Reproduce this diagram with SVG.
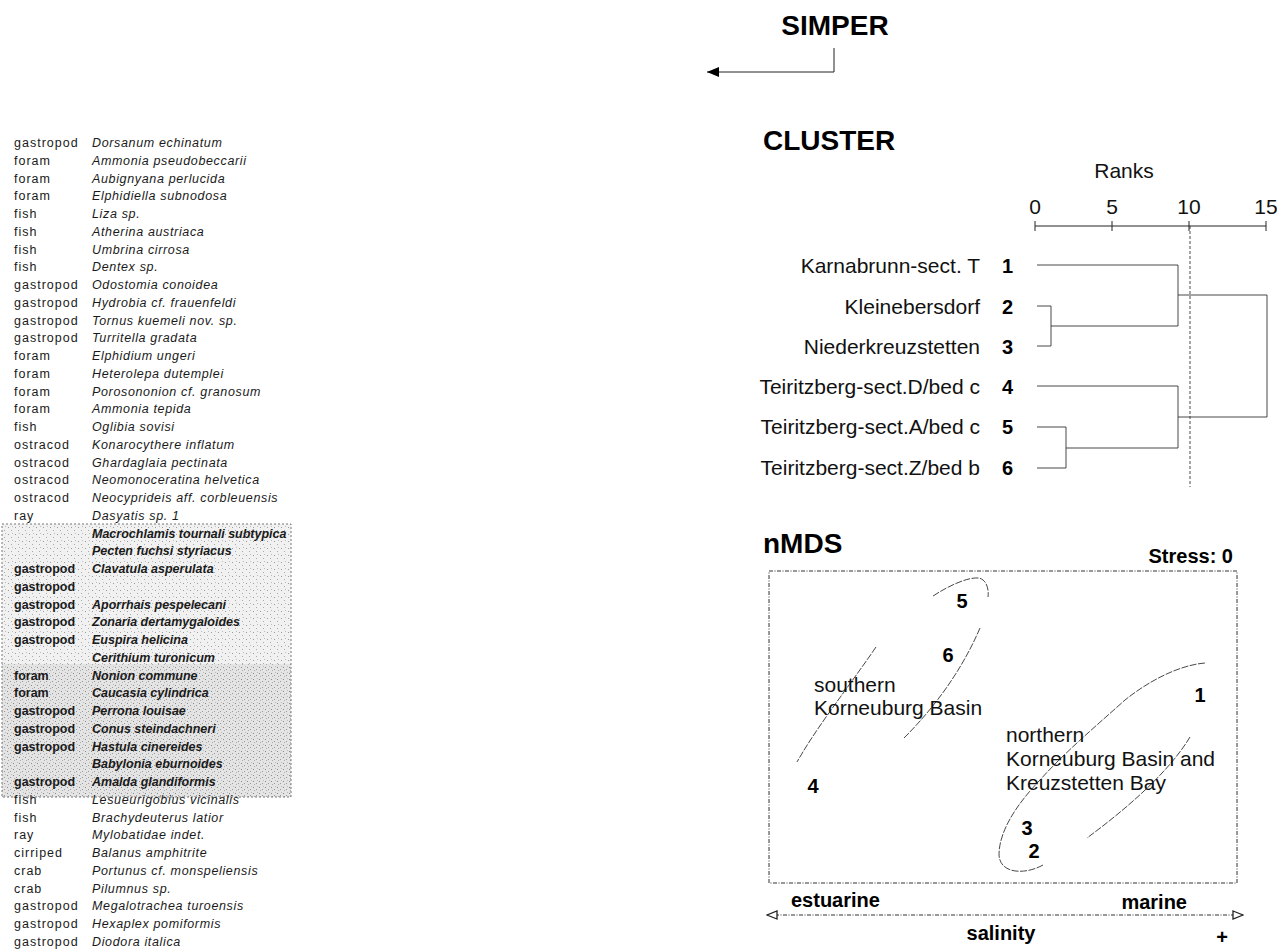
<svg xmlns="http://www.w3.org/2000/svg" width="1277" height="949" viewBox="0 0 1277 949">
<defs>
<style>
.t{font-family:"Liberation Sans",Arial,sans-serif;fill:#1a1a1a}
.cat{font-size:12.5px;letter-spacing:1px}
.sp{font-size:12.5px;font-style:italic;letter-spacing:0.65px}
.bx .cat,.bx .sp{font-weight:bold;letter-spacing:0px}
.h{font-family:"Liberation Sans",Arial,sans-serif;font-weight:bold;font-size:28px;fill:#000}
.lab{font-family:"Liberation Sans",Arial,sans-serif;font-size:21px;fill:#111}
.num{font-family:"Liberation Sans",Arial,sans-serif;font-size:20px;font-weight:bold;fill:#000}
.bl{font-family:"Liberation Sans",Arial,sans-serif;font-size:20px;font-weight:bold;fill:#000}
.ln{fill:none;stroke:#222;stroke-width:1}
.dn{fill:none;stroke:#333;stroke-width:0.9}
.cv{fill:none;stroke:#333;stroke-width:0.9;stroke-dasharray:7 1.5}
.dash{fill:none;stroke:#333;stroke-width:1;stroke-dasharray:4 1.5 1 1.5}
</style>
<pattern id="stip" width="7" height="7" patternUnits="userSpaceOnUse">
<rect width="7" height="7" fill="#f1f1f1"/>
<rect x="1" y="2" width="1" height="1" fill="#9a9a9a"/>
<rect x="4" y="5" width="1" height="1" fill="#aaa"/>
<rect x="5" y="1" width="1" height="1" fill="#bbb"/>
</pattern>
<pattern id="stip2" width="6" height="6" patternUnits="userSpaceOnUse">
<rect width="6" height="6" fill="#e4e4e4"/>
<rect x="1" y="1" width="1" height="1" fill="#888"/>
<rect x="4" y="3" width="1" height="1" fill="#999"/>
<rect x="2" y="4" width="1" height="1" fill="#aaa"/>
<rect x="5" y="0" width="1" height="1" fill="#bbb"/>
</pattern>
<marker id="af" viewBox="0 0 12 10" refX="12" refY="5" markerWidth="12" markerHeight="10" markerUnits="userSpaceOnUse" orient="auto">
<path d="M0,0 L12,5 L0,10 Z" fill="#000"/>
</marker>
<marker id="ao" viewBox="0 0 12 10" refX="11" refY="5" markerWidth="12" markerHeight="10" markerUnits="userSpaceOnUse" orient="auto-start-reverse">
<path d="M1,1 L11,5 L1,9 Z" fill="#fff" stroke="#222" stroke-width="1.3"/>
</marker>
</defs>
<rect width="1277" height="949" fill="#fff"/>

<g id="table">
<g id="simper-box">
<rect x="2" y="524" width="289" height="140" fill="url(#stip)"/>
<rect x="2" y="664" width="289" height="133" fill="url(#stip2)"/>
<rect x="2" y="524" width="289" height="273" fill="none" stroke="#777" stroke-width="1" stroke-dasharray="2 2"/>
</g>
<g id="rows-top" class="t">
<text class="cat" x="14" y="147">gastropod</text><text class="sp" x="92" y="147">Dorsanum echinatum</text>
<text class="cat" x="14" y="164.75">foram</text><text class="sp" x="92" y="164.75">Ammonia pseudobeccarii</text>
<text class="cat" x="14" y="182.5">foram</text><text class="sp" x="92" y="182.5">Aubignyana perlucida</text>
<text class="cat" x="14" y="200.25">foram</text><text class="sp" x="92" y="200.25">Elphidiella subnodosa</text>
<text class="cat" x="14" y="218">fish</text><text class="sp" x="92" y="218">Liza sp.</text>
<text class="cat" x="14" y="235.75">fish</text><text class="sp" x="92" y="235.75">Atherina austriaca</text>
<text class="cat" x="14" y="253.5">fish</text><text class="sp" x="92" y="253.5">Umbrina cirrosa</text>
<text class="cat" x="14" y="271.25">fish</text><text class="sp" x="92" y="271.25">Dentex sp.</text>
<text class="cat" x="14" y="289">gastropod</text><text class="sp" x="92" y="289">Odostomia conoidea</text>
<text class="cat" x="14" y="306.75">gastropod</text><text class="sp" x="92" y="306.75">Hydrobia cf. frauenfeldi</text>
<text class="cat" x="14" y="324.5">gastropod</text><text class="sp" x="92" y="324.5">Tornus kuemeli nov. sp.</text>
<text class="cat" x="14" y="342.25">gastropod</text><text class="sp" x="92" y="342.25">Turritella gradata</text>
<text class="cat" x="14" y="360">foram</text><text class="sp" x="92" y="360">Elphidium ungeri</text>
<text class="cat" x="14" y="377.75">foram</text><text class="sp" x="92" y="377.75">Heterolepa dutemplei</text>
<text class="cat" x="14" y="395.5">foram</text><text class="sp" x="92" y="395.5">Porosononion cf. granosum</text>
<text class="cat" x="14" y="413.25">foram</text><text class="sp" x="92" y="413.25">Ammonia tepida</text>
<text class="cat" x="14" y="431">fish</text><text class="sp" x="92" y="431">Oglibia sovisi</text>
<text class="cat" x="14" y="448.75">ostracod</text><text class="sp" x="92" y="448.75">Konarocythere inflatum</text>
<text class="cat" x="14" y="466.5">ostracod</text><text class="sp" x="92" y="466.5">Ghardaglaia pectinata</text>
<text class="cat" x="14" y="484.25">ostracod</text><text class="sp" x="92" y="484.25">Neomonoceratina helvetica</text>
<text class="cat" x="14" y="502">ostracod</text><text class="sp" x="92" y="502">Neocyprideis aff. corbleuensis</text>
<text class="cat" x="14" y="519.75">ray</text><text class="sp" x="92" y="519.75">Dasyatis sp. 1</text>
</g>
<g id="rows-box" class="t bx">
<text class="sp" x="92" y="537.5">Macrochlamis tournali subtypica</text>
<text class="sp" x="92" y="555.25">Pecten fuchsi styriacus</text>
<text class="cat" x="14" y="573">gastropod</text><text class="sp" x="92" y="573">Clavatula asperulata</text>
<text class="cat" x="14" y="590.75">gastropod</text>
<text class="cat" x="14" y="608.5">gastropod</text><text class="sp" x="92" y="608.5">Aporrhais pespelecani</text>
<text class="cat" x="14" y="626.25">gastropod</text><text class="sp" x="92" y="626.25">Zonaria dertamygaloides</text>
<text class="cat" x="14" y="644">gastropod</text><text class="sp" x="92" y="644">Euspira helicina</text>
<text class="sp" x="92" y="661.75">Cerithium turonicum</text>
<text class="cat" x="14" y="679.5">foram</text><text class="sp" x="92" y="679.5">Nonion commune</text>
<text class="cat" x="14" y="697.25">foram</text><text class="sp" x="92" y="697.25">Caucasia cylindrica</text>
<text class="cat" x="14" y="715">gastropod</text><text class="sp" x="92" y="715">Perrona louisae</text>
<text class="cat" x="14" y="732.75">gastropod</text><text class="sp" x="92" y="732.75">Conus steindachneri</text>
<text class="cat" x="14" y="750.5">gastropod</text><text class="sp" x="92" y="750.5">Hastula cinereides</text>
<text class="sp" x="92" y="768.25">Babylonia eburnoides</text>
<text class="cat" x="14" y="786">gastropod</text><text class="sp" x="92" y="786">Amalda glandiformis</text>
</g>
<g id="rows-bottom" class="t">
<text class="cat" x="14" y="803.75">fish</text><text class="sp" x="92" y="803.75">Lesueurigobius vicinalis</text>
<text class="cat" x="14" y="821.5">fish</text><text class="sp" x="92" y="821.5">Brachydeuterus latior</text>
<text class="cat" x="14" y="839.25">ray</text><text class="sp" x="92" y="839.25">Mylobatidae indet.</text>
<text class="cat" x="14" y="857">cirriped</text><text class="sp" x="92" y="857">Balanus amphitrite</text>
<text class="cat" x="14" y="874.75">crab</text><text class="sp" x="92" y="874.75">Portunus cf. monspeliensis</text>
<text class="cat" x="14" y="892.5">crab</text><text class="sp" x="92" y="892.5">Pilumnus sp.</text>
<text class="cat" x="14" y="910.25">gastropod</text><text class="sp" x="92" y="910.25">Megalotrachea turoensis</text>
<text class="cat" x="14" y="928">gastropod</text><text class="sp" x="92" y="928">Hexaplex pomiformis</text>
<text class="cat" x="14" y="945.75">gastropod</text><text class="sp" x="92" y="945.75">Diodora italica</text>
</g>
</g>

<g id="simper">
<text class="h" x="835" y="35" text-anchor="middle">SIMPER</text>
</g>

<g id="cluster">
<text class="h" x="763" y="150">CLUSTER</text>
<text class="lab" x="1124" y="178" text-anchor="middle">Ranks</text>
<g id="ranks-axis">
<text class="lab" x="1035" y="214" text-anchor="middle">0</text>
<text class="lab" x="1112" y="214" text-anchor="middle">5</text>
<text class="lab" x="1189" y="214" text-anchor="middle">10</text>
<text class="lab" x="1266" y="214" text-anchor="middle">15</text>
<path class="ln" d="M1035,226 H1266 M1035,221 V231 M1112,221 V231 M1189,221 V231 M1266,221 V231" stroke-width="1.3"/>
</g>
<g id="leaf-1"><text class="lab" x="980" y="273" text-anchor="end">Karnabrunn-sect. T</text><text class="num" x="1002" y="273" font-size="21">1</text></g>
<g id="leaf-2"><text class="lab" x="980" y="314" text-anchor="end">Kleinebersdorf</text><text class="num" x="1002" y="314" font-size="21">2</text></g>
<g id="leaf-3"><text class="lab" x="980" y="354" text-anchor="end">Niederkreuzstetten</text><text class="num" x="1002" y="354" font-size="21">3</text></g>
<g id="leaf-4"><text class="lab" x="980" y="394" text-anchor="end">Teiritzberg-sect.D/bed c</text><text class="num" x="1002" y="394" font-size="21">4</text></g>
<g id="leaf-5"><text class="lab" x="980" y="434" text-anchor="end">Teiritzberg-sect.A/bed c</text><text class="num" x="1002" y="434" font-size="21">5</text></g>
<g id="leaf-6"><text class="lab" x="980" y="475" text-anchor="end">Teiritzberg-sect.Z/bed b</text><text class="num" x="1002" y="475" font-size="21">6</text></g>
</g>

<g id="nmds">
<text class="h" x="763" y="553">nMDS</text>
<text class="bl" x="1233" y="563" text-anchor="end">Stress: 0</text>
<rect class="dash" x="769" y="571" width="468" height="312"/>
<g id="pt-5"><text class="num" x="962" y="608" text-anchor="middle">5</text></g>
<g id="pt-6"><text class="num" x="948" y="662" text-anchor="middle">6</text></g>
<g id="pt-1"><text class="num" x="1200" y="702" text-anchor="middle">1</text></g>
<g id="pt-4"><text class="num" x="813" y="793" text-anchor="middle">4</text></g>
<g id="pt-3"><text class="num" x="1027" y="835" text-anchor="middle">3</text></g>
<g id="pt-2"><text class="num" x="1034" y="858" text-anchor="middle">2</text></g>
<g id="group-south">
<path class="cv" d="M933,596 C950,585 968,577 979,578 C987,580 989,590 988,597"/>
<path class="cv" d="M980,628 C962,670 935,707 904,738"/>
<path class="cv" d="M876,647 C848,688 818,725 797,762"/>
<text class="lab" x="814" y="692">southern</text>
<text class="lab" x="814" y="715">Korneuburg Basin</text>
</g>
<g id="group-north">
<path class="cv" d="M1043,865 C1025,875 1000,874 999,855 C999,830 1018,803 1040,780 C1065,752 1095,727 1125,700 C1150,680 1180,665 1205,663"/>
<path class="cv" d="M1190,737 C1167,775 1122,812 1087,838"/>
<text class="lab" x="1006" y="742">northern</text>
<text class="lab" x="1006" y="766">Korneuburg Basin and</text>
<text class="lab" x="1006" y="790">Kreuzstetten Bay</text>
</g>
<g id="salinity">
<text class="bl" x="791" y="907">estuarine</text>
<text class="bl" x="1187" y="909" text-anchor="end">marine</text>
<text class="bl" x="1001" y="940" text-anchor="middle">salinity</text>
<text class="bl" x="1222" y="944" text-anchor="middle" font-size="22">+</text>
</g>
</g>

<g id="connectors">
<path class="ln" d="M834,48 V72 H707" stroke="#000" stroke-width="1.6" marker-end="url(#af)"/>
<path class="dn" d="M1037,265 H1178 M1037,306 H1051 M1037,346 H1051 M1051,306 V346 M1051,326 H1178 M1178,265 V326 M1178,295 H1267"/>
<path class="dn" d="M1037,386 H1178 M1037,427 H1066 M1037,468 H1066 M1066,427 V468 M1066,448 H1178 M1178,386 V448 M1178,417 H1267 M1267,295 V417"/>
<path class="dn" d="M1190,226 V487" stroke-dasharray="3 2"/>
<path class="dash" d="M767,915 H1243" marker-start="url(#ao)" marker-end="url(#ao)"/>
</g>
</svg>
